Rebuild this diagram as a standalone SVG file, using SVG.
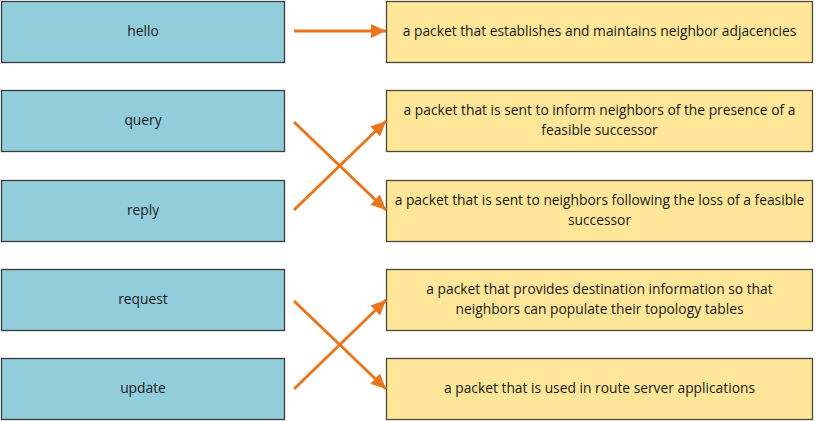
<svg xmlns="http://www.w3.org/2000/svg" width="819" height="421" viewBox="0 0 819 421">
<defs>
<style>
.l{fill:#92CDDC;stroke:#3a3a3a;stroke-width:1.3}
.r{fill:#FFE699;stroke:#4a4a3a;stroke-width:1.3}
text{font-family:"Open Sans","Noto Sans","Liberation Sans",sans-serif;font-size:13.8px;fill:#1a1a1a;text-anchor:middle}
.c{stroke:#E8761E;stroke-width:3;fill:none;marker-end:url(#ah)}
</style>
<marker id="ah" markerUnits="userSpaceOnUse" markerWidth="16" markerHeight="14" refX="15" refY="7" orient="auto">
<path d="M0,0 L15,7 L0,14 Z" fill="#E8761E"/>
</marker>
</defs>
<rect width="819" height="421" fill="#ffffff"/>
<g id="n-hello"><rect class="l" x="1.5" y="1.5" width="283" height="61"/><text x="143" y="36">hello</text></g>
<g id="n-query"><rect class="l" x="1.5" y="90.5" width="283" height="61"/><text x="143" y="125">query</text></g>
<g id="n-reply"><rect class="l" x="1.5" y="180.5" width="283" height="61"/><text x="143" y="215">reply</text></g>
<g id="n-request"><rect class="l" x="1.5" y="269.5" width="283" height="61"/><text x="143" y="304">request</text></g>
<g id="n-update"><rect class="l" x="1.5" y="358.5" width="283" height="61"/><text x="143" y="393">update</text></g>
<g id="d-hello"><rect class="r" x="386.5" y="1.5" width="426" height="61"/><text x="599.5" y="36">a packet that establishes and maintains neighbor adjacencies</text></g>
<g id="d-query"><rect class="r" x="386.5" y="90.5" width="426" height="61"/><text x="599.5" y="115">a packet that is sent to inform neighbors of the presence of a</text><text x="599.5" y="135">feasible successor</text></g>
<g id="d-reply"><rect class="r" x="386.5" y="180.5" width="426" height="61"/><text x="599.5" y="205">a packet that is sent to neighbors following the loss of a feasible</text><text x="599.5" y="225">successor</text></g>
<g id="d-request"><rect class="r" x="386.5" y="269.5" width="426" height="61"/><text x="599.5" y="294">a packet that provides destination information so that</text><text x="599.5" y="314">neighbors can populate their topology tables</text></g>
<g id="d-update"><rect class="r" x="386.5" y="358.5" width="426" height="61"/><text x="599.5" y="393">a packet that is used in route server applications</text></g>
<g id="connectors">
<line class="c" x1="294" y1="31" x2="386" y2="31"/>
<line class="c" x1="294" y1="122" x2="386" y2="210"/>
<line class="c" x1="294" y1="210" x2="386" y2="121"/>
<line class="c" x1="294" y1="301" x2="386" y2="389"/>
<line class="c" x1="294" y1="389" x2="386" y2="300"/>
</g>
</svg>
